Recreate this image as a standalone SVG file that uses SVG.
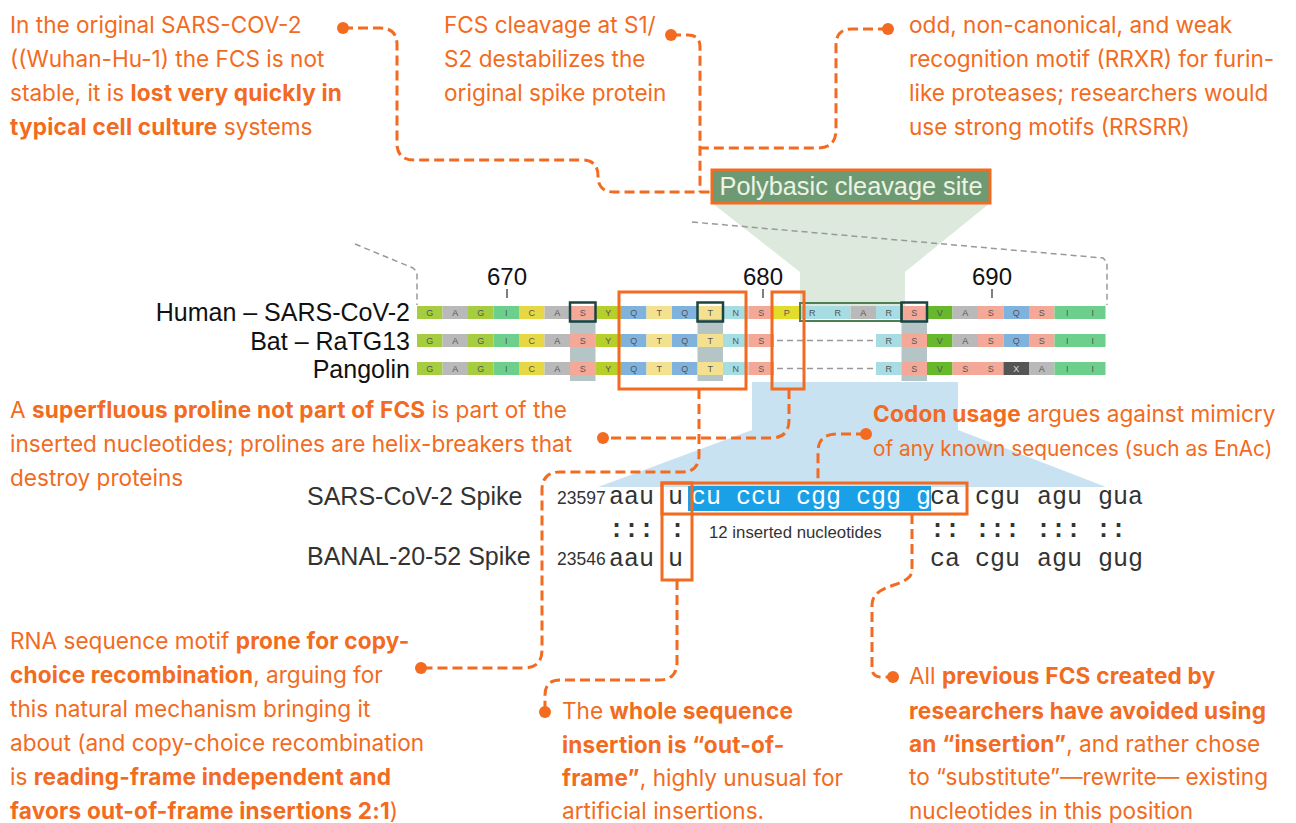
<svg xmlns="http://www.w3.org/2000/svg" width="1296" height="823" viewBox="0 0 1296 823">
<style>
.note{font-family:Inter,"Noto Sans","Liberation Sans",sans-serif;font-size:22.6px;fill:#f26b21}
.b{font-weight:700;letter-spacing:0.2px}
.lbl{font-family:"Liberation Sans",Arial,sans-serif;fill:#111}
.aa{font-family:"Liberation Sans",Arial,sans-serif;font-size:9px;fill:#555;text-anchor:middle}
.mono{font-family:"Liberation Mono","Courier New",monospace;font-size:25px;fill:#333}
.col{font-weight:700}
.con{fill:none;stroke:#f26b21;stroke-width:3;stroke-dasharray:10 5}
.dot{fill:#f26b21}
.obox{fill:none;stroke:#f26b21;stroke-width:3}
.gdash{fill:none;stroke:#999;stroke-width:1.5;stroke-dasharray:6 4}
.G{fill:#a5cd3f}.A{fill:#b9b9b9}.I{fill:#6ccf8b}.C{fill:#e8d744}.S{fill:#f4a898}.Y{fill:#b6cf2a}
.Q{fill:#7fb3de}.T{fill:#f3e190}.N{fill:#a6dde2}.P{fill:#e3dc2a}.R{fill:#a6dce2}.V{fill:#67b82a}.X{fill:#555}
.bar{fill:#b5c4c4}
.dk{fill:none;stroke:#1b4341;stroke-width:2.5}
</style>

<g id="funnel">
<polygon points="712,203 990,203 905,272 905,306 800,306 800,272" fill="#dde9dd"/>
<polygon points="752,382 958,382 958,430 1106,487 598,487 752,430" fill="#c9e2f2"/>
<polyline class="gdash" points="355,244 413,268 417,272 417,305"/>
<polyline class="gdash" points="692,222 1103,258 1107,262 1107,305"/>
</g>

<g id="polybasic">
<rect x="712" y="170" width="278" height="33" fill="#6e9a73" stroke="#f26b21" stroke-width="3"/>
<text x="851" y="195" text-anchor="middle" class="lbl" font-size="25.3" style="fill:#eef3e6">Polybasic cleavage site</text>
</g>

<g id="positions" class="lbl" font-size="24">
<text x="507" y="285" text-anchor="middle">670</text>
<text x="763" y="285" text-anchor="middle">680</text>
<text x="992" y="285" text-anchor="middle">690</text>
<path d="M507,289V298M763,289V298M992,289V298" stroke="#555" stroke-width="1.5"/>
</g>

<g id="row-labels" class="lbl" font-size="25" text-anchor="end">
<text x="410" y="321">Human – SARS-CoV-2</text>
<text x="410" y="350">Bat – RaTG13</text>
<text x="410" y="378">Pangolin</text>
</g>

<g id="alignment">
<rect class="bar" x="570" y="319" width="25.5" height="62"/>
<rect class="bar" x="697.5" y="319" width="25.5" height="62"/>
<rect class="bar" x="901.5" y="319" width="25.5" height="62"/>
<g id="row1">
<rect class="G" x="417" y="306" width="25.5" height="13"/><rect class="A" x="442.5" y="306" width="25.5" height="13"/><rect class="G" x="468" y="306" width="25.5" height="13"/><rect class="I" x="493.5" y="306" width="25.5" height="13"/><rect class="C" x="519" y="306" width="25.5" height="13"/><rect class="A" x="544.5" y="306" width="25.5" height="13"/><rect class="S" x="570" y="306" width="25.5" height="13"/><rect class="Y" x="595.5" y="306" width="25.5" height="13"/><rect class="Q" x="621" y="306" width="25.5" height="13"/><rect class="T" x="646.5" y="306" width="25.5" height="13"/><rect class="Q" x="672" y="306" width="25.5" height="13"/><rect class="T" x="697.5" y="306" width="25.5" height="13"/><rect class="N" x="723" y="306" width="25.5" height="13"/><rect class="S" x="748.5" y="306" width="25.5" height="13"/><rect class="P" x="774" y="306" width="25.5" height="13"/><rect class="R" x="799.5" y="306" width="25.5" height="13"/><rect class="R" x="825" y="306" width="25.5" height="13"/><rect class="A" x="850.5" y="306" width="25.5" height="13"/><rect class="R" x="876" y="306" width="25.5" height="13"/><rect class="S" x="901.5" y="306" width="25.5" height="13"/><rect class="V" x="927" y="306" width="25.5" height="13"/><rect class="A" x="952.5" y="306" width="25.5" height="13"/><rect class="S" x="978" y="306" width="25.5" height="13"/><rect class="Q" x="1003.5" y="306" width="25.5" height="13"/><rect class="S" x="1029" y="306" width="25.5" height="13"/><rect class="I" x="1054.5" y="306" width="25.5" height="13"/><rect class="I" x="1080" y="306" width="25.5" height="13"/>
<text class="aa" y="316"><tspan x="429.75">G</tspan><tspan x="455.25">A</tspan><tspan x="480.75">G</tspan><tspan x="506.25">I</tspan><tspan x="531.75">C</tspan><tspan x="557.25">A</tspan><tspan x="582.75">S</tspan><tspan x="608.25">Y</tspan><tspan x="633.75">Q</tspan><tspan x="659.25">T</tspan><tspan x="684.75">Q</tspan><tspan x="710.25">T</tspan><tspan x="735.75">N</tspan><tspan x="761.25">S</tspan><tspan x="786.75">P</tspan><tspan x="812.25">R</tspan><tspan x="837.75">R</tspan><tspan x="863.25">A</tspan><tspan x="888.75">R</tspan><tspan x="914.25">S</tspan><tspan x="939.75">V</tspan><tspan x="965.25">A</tspan><tspan x="990.75">S</tspan><tspan x="1016.25">Q</tspan><tspan x="1041.75">S</tspan><tspan x="1067.25">I</tspan><tspan x="1092.75">I</tspan></text>
</g>
<g id="row2">
<rect class="G" x="417" y="334" width="25.5" height="13"/><rect class="A" x="442.5" y="334" width="25.5" height="13"/><rect class="G" x="468" y="334" width="25.5" height="13"/><rect class="I" x="493.5" y="334" width="25.5" height="13"/><rect class="C" x="519" y="334" width="25.5" height="13"/><rect class="A" x="544.5" y="334" width="25.5" height="13"/><rect class="S" x="570" y="334" width="25.5" height="13"/><rect class="Y" x="595.5" y="334" width="25.5" height="13"/><rect class="Q" x="621" y="334" width="25.5" height="13"/><rect class="T" x="646.5" y="334" width="25.5" height="13"/><rect class="Q" x="672" y="334" width="25.5" height="13"/><rect class="T" x="697.5" y="334" width="25.5" height="13"/><rect class="N" x="723" y="334" width="25.5" height="13"/><rect class="S" x="748.5" y="334" width="25.5" height="13"/><rect class="R" x="876" y="334" width="25.5" height="13"/><rect class="S" x="901.5" y="334" width="25.5" height="13"/><rect class="V" x="927" y="334" width="25.5" height="13"/><rect class="A" x="952.5" y="334" width="25.5" height="13"/><rect class="S" x="978" y="334" width="25.5" height="13"/><rect class="Q" x="1003.5" y="334" width="25.5" height="13"/><rect class="S" x="1029" y="334" width="25.5" height="13"/><rect class="I" x="1054.5" y="334" width="25.5" height="13"/><rect class="I" x="1080" y="334" width="25.5" height="13"/>
<path d="M777,340.5H874" class="gdash" stroke="#aaa" stroke-dasharray="4 3"/>
<text class="aa" y="344"><tspan x="429.75">G</tspan><tspan x="455.25">A</tspan><tspan x="480.75">G</tspan><tspan x="506.25">I</tspan><tspan x="531.75">C</tspan><tspan x="557.25">A</tspan><tspan x="582.75">S</tspan><tspan x="608.25">Y</tspan><tspan x="633.75">Q</tspan><tspan x="659.25">T</tspan><tspan x="684.75">Q</tspan><tspan x="710.25">T</tspan><tspan x="735.75">N</tspan><tspan x="761.25">S</tspan><tspan x="888.75">R</tspan><tspan x="914.25">S</tspan><tspan x="939.75">V</tspan><tspan x="965.25">A</tspan><tspan x="990.75">S</tspan><tspan x="1016.25">Q</tspan><tspan x="1041.75">S</tspan><tspan x="1067.25">I</tspan><tspan x="1092.75">I</tspan></text>
</g>
<g id="row3">
<rect class="G" x="417" y="362" width="25.5" height="13"/><rect class="A" x="442.5" y="362" width="25.5" height="13"/><rect class="G" x="468" y="362" width="25.5" height="13"/><rect class="I" x="493.5" y="362" width="25.5" height="13"/><rect class="C" x="519" y="362" width="25.5" height="13"/><rect class="A" x="544.5" y="362" width="25.5" height="13"/><rect class="S" x="570" y="362" width="25.5" height="13"/><rect class="Y" x="595.5" y="362" width="25.5" height="13"/><rect class="Q" x="621" y="362" width="25.5" height="13"/><rect class="T" x="646.5" y="362" width="25.5" height="13"/><rect class="Q" x="672" y="362" width="25.5" height="13"/><rect class="T" x="697.5" y="362" width="25.5" height="13"/><rect class="N" x="723" y="362" width="25.5" height="13"/><rect class="S" x="748.5" y="362" width="25.5" height="13"/><rect class="R" x="876" y="362" width="25.5" height="13"/><rect class="S" x="901.5" y="362" width="25.5" height="13"/><rect class="V" x="927" y="362" width="25.5" height="13"/><rect class="S" x="952.5" y="362" width="25.5" height="13"/><rect class="S" x="978" y="362" width="25.5" height="13"/><rect class="X" x="1003.5" y="362" width="25.5" height="13"/><rect class="A" x="1029" y="362" width="25.5" height="13"/><rect class="I" x="1054.5" y="362" width="25.5" height="13"/><rect class="I" x="1080" y="362" width="25.5" height="13"/>
<path d="M777,368.5H874" class="gdash" stroke="#aaa" stroke-dasharray="4 3"/>
<text class="aa" y="372"><tspan x="429.75">G</tspan><tspan x="455.25">A</tspan><tspan x="480.75">G</tspan><tspan x="506.25">I</tspan><tspan x="531.75">C</tspan><tspan x="557.25">A</tspan><tspan x="582.75">S</tspan><tspan x="608.25">Y</tspan><tspan x="633.75">Q</tspan><tspan x="659.25">T</tspan><tspan x="684.75">Q</tspan><tspan x="710.25">T</tspan><tspan x="735.75">N</tspan><tspan x="761.25">S</tspan><tspan x="888.75">R</tspan><tspan x="914.25">S</tspan><tspan x="939.75">V</tspan><tspan x="965.25">S</tspan><tspan x="990.75">S</tspan><tspan x="1016.25" style="fill:#ddd">X</tspan><tspan x="1041.75">A</tspan><tspan x="1067.25">I</tspan><tspan x="1092.75">I</tspan></text>
</g>
<rect class="dk" x="570" y="302.5" width="25.5" height="19"/>
<rect class="dk" x="697.5" y="302.5" width="25.5" height="19"/>
<rect x="800" y="303" width="101.5" height="18" fill="none" stroke="#4d7f55" stroke-width="2"/>
<rect class="dk" x="901.5" y="302.5" width="25.5" height="19"/>
</g>

<g id="box-qtqt"><rect class="obox" x="619" y="292" width="127" height="97"/></g>
<g id="box-p"><rect class="obox" x="772" y="292" width="32" height="97"/></g>

<g id="sequences">
<text class="lbl" x="307" y="505" font-size="25" style="fill:#333">SARS-CoV-2 Spike</text>
<text class="lbl" x="307" y="565" font-size="25" style="fill:#333">BANAL-20-52 Spike</text>
<text class="lbl" x="557" y="504" font-size="17.5" style="fill:#333">23597</text>
<text class="lbl" x="557" y="565" font-size="17.5" style="fill:#333">23546</text>
<rect x="688" y="486" width="243" height="25" fill="#1aa0e6"/>
<g class="mono">
<text x="609" y="504">aau</text>
<text x="668" y="504">u</text>
<text x="691" y="504" style="fill:#fff">cu ccu cgg cgg g</text>
<text x="930" y="504">ca</text>
<text x="975" y="504">cgu</text>
<text x="1037" y="504">agu</text>
<text x="1098" y="504">gua</text>
<text class="col" x="609" y="537">:::</text>
<text class="col" x="670" y="537">:</text>
<text class="col" x="930" y="537">::</text>
<text class="col" x="975" y="537">:::</text>
<text class="col" x="1036" y="537">:::</text>
<text class="col" x="1096" y="537">::</text>
<text x="609" y="566">aau</text>
<text x="668" y="566">u</text>
<text x="930" y="566">ca</text>
<text x="975" y="566">cgu</text>
<text x="1037" y="566">agu</text>
<text x="1098" y="566">gug</text>
</g>
<text class="lbl" x="709" y="538" font-size="16.8" style="fill:#333">12 inserted nucleotides</text>
</g>

<g id="box-insert"><rect class="obox" x="662" y="483" width="305" height="31"/></g>
<g id="box-u"><rect class="obox" x="662" y="483" width="30" height="97"/></g>

<g id="connectors">
<path class="con" d="M343,28H380Q397,28 397,45V143Q397,160 414,160H582Q598,160 598,176Q598,192 614,192H712"/>
<path class="con" d="M671,35H688Q700,35 700,47V192"/>
<path class="con" d="M888,29H852Q836,29 836,45V130Q836,148 818,148H700"/>
<path class="con" d="M789,389V420Q789,438 771,438H603"/>
<path class="con" d="M699,389V455Q699,472 682,472H560Q542,472 542,490V650Q542,668 524,668H421"/>
<path class="con" d="M866,434H837Q818,434 818,452V483"/>
<path class="con" d="M677,580V662Q677,680 659,680H560Q545,680 545,695V712"/>
<path class="con" d="M912,514V570C912,588 872,582 872,605V668Q872,677 882,677H893"/>
<circle class="dot" cx="343" cy="28" r="6"/>
<circle class="dot" cx="671" cy="35" r="6"/>
<circle class="dot" cx="888" cy="29" r="6"/>
<circle class="dot" cx="603" cy="438" r="6"/>
<circle class="dot" cx="421" cy="668" r="6"/>
<circle class="dot" cx="866" cy="434" r="6"/>
<circle class="dot" cx="545" cy="712" r="6"/>
<circle class="dot" cx="893" cy="677" r="6"/>
</g>

<g id="note-unstable" class="note">
<text x="10" y="33">In the original SARS-COV-2</text>
<text x="10" y="67">((Wuhan-Hu-1) the FCS is not</text>
<text x="10" y="101">stable, it is <tspan class="b">lost very quickly in</tspan></text>
<text x="10" y="135"><tspan class="b">typical cell culture</tspan> systems</text>
</g>
<g id="note-cleavage" class="note">
<text x="444" y="33">FCS cleavage at S1/</text>
<text x="444" y="67">S2 destabilizes the</text>
<text x="444" y="101">original spike protein</text>
</g>
<g id="note-motif" class="note">
<text x="909" y="33">odd, non-canonical, and weak</text>
<text x="909" y="67">recognition motif (RRXR) for furin-</text>
<text x="909" y="101">like proteases; researchers would</text>
<text x="909" y="135">use strong motifs (RRSRR)</text>
</g>
<g id="note-proline" class="note">
<text x="10" y="418">A <tspan class="b">superfluous proline not part of FCS</tspan> is part of the</text>
<text x="10" y="452">inserted nucleotides; prolines are helix-breakers that</text>
<text x="10" y="486">destroy proteins</text>
</g>
<g id="note-codon" class="note">
<text x="873" y="422"><tspan class="b">Codon usage</tspan> argues against mimicry</text>
<text x="873" y="456" style="font-size:20.8px">of any known sequences (such as EnAc)</text>
</g>
<g id="note-copychoice" class="note">
<text x="10" y="649">RNA sequence motif <tspan class="b">prone for copy-</tspan></text>
<text x="10" y="683"><tspan class="b">choice recombination</tspan>, arguing for</text>
<text x="10" y="717">this natural mechanism bringing it</text>
<text x="10" y="751">about (and copy-choice recombination</text>
<text x="10" y="785">is <tspan class="b">reading-frame independent and</tspan></text>
<text x="10" y="819"><tspan class="b">favors out-of-frame insertions 2:1</tspan>)</text>
</g>
<g id="note-outofframe" class="note">
<text x="562" y="719">The <tspan class="b">whole sequence</tspan></text>
<text x="562" y="753"><tspan class="b">insertion is “out-of-</tspan></text>
<text x="562" y="786"><tspan class="b">frame”</tspan>, highly unusual for</text>
<text x="562" y="819">artificial insertions.</text>
</g>
<g id="note-substitute" class="note">
<text x="909" y="684">All <tspan class="b">previous FCS created by</tspan></text>
<text x="909" y="719"><tspan class="b">researchers have avoided using</tspan></text>
<text x="909" y="752"><tspan class="b">an “insertion”</tspan>, and rather chose</text>
<text x="909" y="785">to “substitute”—rewrite— existing</text>
<text x="909" y="819">nucleotides in this position</text>
</g>
</svg>
